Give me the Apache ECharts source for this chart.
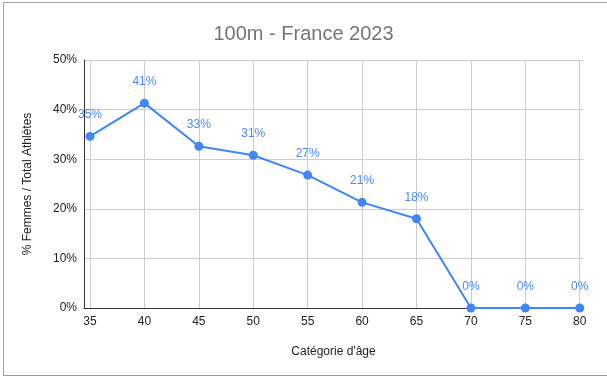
<!DOCTYPE html>
<html>
<head>
<meta charset="utf-8">
<script src="https://cdn.jsdelivr.net/npm/echarts@6/dist/echarts.min.js"></script>
<style>
  html, body { margin: 0; padding: 0; background: #fff; overflow: hidden; }
  #frame { position: absolute; left: 3px; top: 2px; width: 604px; height: 372px; border: 1px solid #9e9e9e; border-right: none; }
  #main { position: absolute; left: 0; top: 0; width: 607px; height: 376px; }
</style>
</head>
<body>
<div id="frame"></div>
<div id="main"></div>
<script>
// catégories d'âge et % femmes
var ageCategories = [35, 40, 45, 50, 55, 60, 65, 70, 75, 80];
var womenShare = [34.6, 41.3, 32.6, 30.8, 26.8, 21.3, 18.0, 0, 0, 0];
var yTicks = [0, 10, 20, 30, 40, 50];

var myChart = echarts.init(document.getElementById('main'));

var points = [];
for (var i = 0; i < ageCategories.length; i++) {
    points.push([ageCategories[i], womenShare[i]]);
}

var option = {
    backgroundColor: 'transparent',
    animation: false,
    textStyle: { fontFamily: 'Arial, "Liberation Sans", sans-serif' },
    title: {
        text: '100m - France 2023',
        left: 'center',
        top: 19,
        textStyle: { fontSize: 20, fontWeight: 'normal', color: '#757575', fontFamily: 'Arial, "Liberation Sans", sans-serif' }
    },
    grid: { left: 84, right: 24, top: 60, bottom: 68, containLabel: false },
    xAxis: {
        type: 'value',
        min: 34.45,
        max: 80.3,
        name: "Catégorie d'âge",
        nameLocation: 'middle',
        nameGap: 38,
        nameTextStyle: { fontSize: 12, color: '#222' },
        axisLine: { show: true, lineStyle: { color: '#333', width: 1 } },
        axisTick: { show: false, customValues: ageCategories },
        axisLabel: {
            fontSize: 12, color: '#222', margin: 8,
            customValues: ageCategories,
            hideOverlap: false
        },
        splitLine: { show: true, lineStyle: { color: '#cccccc', width: 1 } }
    },
    yAxis: {
        type: 'value',
        min: yTicks[0],
        max: yTicks[yTicks.length - 1],
        interval: 10,
        name: '% Femmes / Total Athlètes',
        nameLocation: 'middle',
        nameGap: 50,
        nameTextStyle: { fontSize: 12, color: '#222' },
        axisLine: { show: true, lineStyle: { color: '#333', width: 1 } },
        axisTick: { show: false },
        axisLabel: { fontSize: 12, color: '#222', margin: 7, formatter: '{value}%' },
        splitLine: { show: true, lineStyle: { color: '#cccccc', width: 1 } }
    },
    series: [
        {
            type: 'line',
            data: points,
            symbol: 'circle',
            symbolSize: 9,
            lineStyle: { color: '#4285f4', width: 2 },
            itemStyle: { color: '#4285f4' },
            label: {
                show: true,
                position: 'top',
                distance: 11,
                fontSize: 12,
                color: '#4a8af4',
                formatter: function (p) { return Math.round(p.value[1]) + '%'; }
            }
        }
    ]
};
myChart.setOption(option);
</script>
</body>
</html>
